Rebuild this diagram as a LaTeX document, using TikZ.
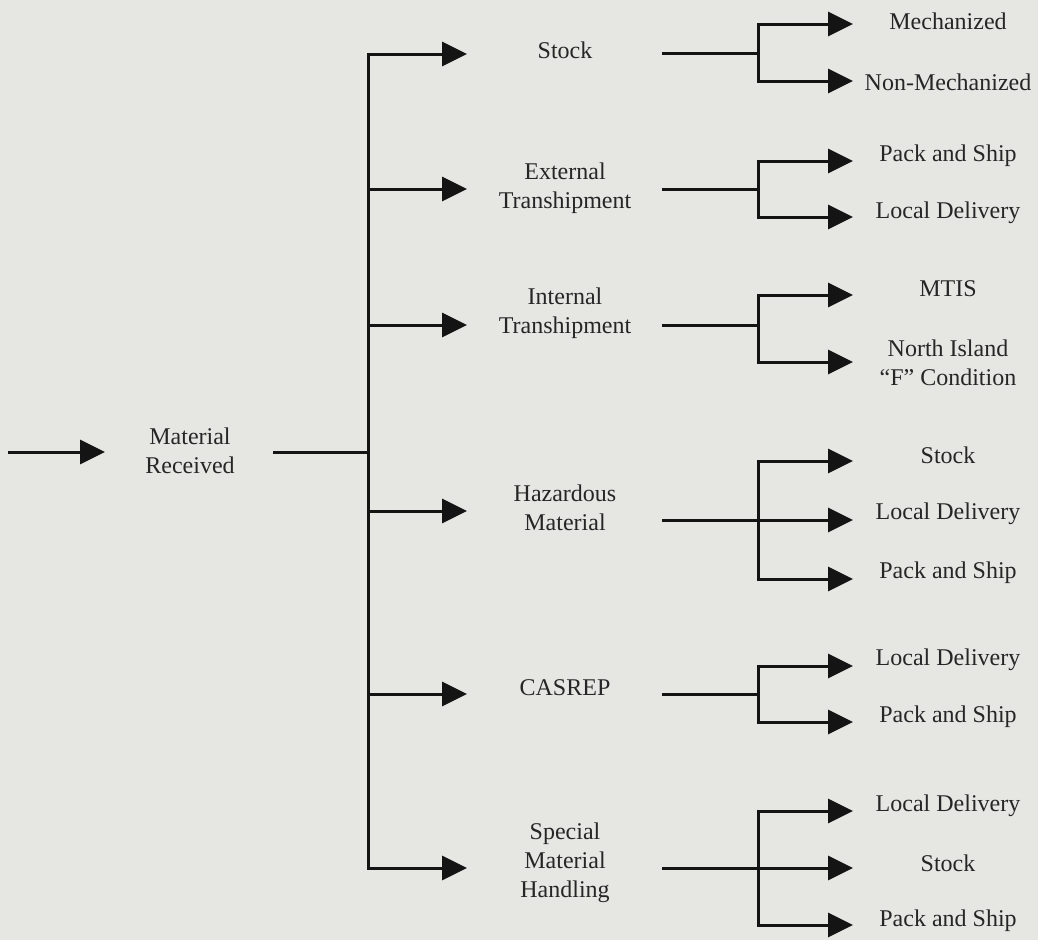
\documentclass[tikz,border=0pt]{standalone}
\usepackage{fontspec}
\setmainfont{Liberation Serif}
\usetikzlibrary{arrows.meta}
\definecolor{paper}{HTML}{E6E7E3}
\definecolor{ink}{HTML}{141414}
\definecolor{textink}{HTML}{262626}
\begin{document}
\begin{tikzpicture}[x=1pt,y=-1pt,
  wire/.style={draw=ink,line width=3pt,line join=miter},
  flow/.style={wire,-{Triangle[length=25pt,width=24pt]}},
  lbl/.style={text=textink,align=center,inner sep=0pt,
    font=\fontsize{24}{29}\selectfont}]
% page
\fill[paper] (0,0) rectangle (1038,940);
\useasboundingbox (0,0) rectangle (1038,940);

% ---- root ----
\coordinate (src) at (8,452);
\coordinate (rootin) at (105,452);
\node[lbl] (root) at (190,451) {Material\\Received};
\coordinate (rootout) at (273,452);
\coordinate (hub) at (368,452);
\draw[flow] (src) -- (rootin);
\draw[wire] (rootout) -- (hub);

% ---- first level labels ----
\node[lbl] (stock)    at (565,50)  {Stock};
\node[lbl] (ext)      at (565,188) {External\\Transhipment};
\node[lbl] (int)      at (565,313) {Internal\\Transhipment};
\node[lbl] (haz)      at (565,508) {Hazardous\\Material};
\node[lbl] (casrep)   at (565,688) {CASREP};
\node[lbl] (special)  at (565,863) {Special\\Material\\Handling};

% arrow ends in front of the first level labels
\coordinate (stockin)   at (467,54);
\coordinate (extin)     at (467,189);
\coordinate (intin)     at (467,325);
\coordinate (hazin)     at (467,511);
\coordinate (casrepin)  at (467,694);
\coordinate (specialin) at (467,868);

% main trunk with its branches
\draw[flow] (hub) |- (stockin);
\draw[flow] (hub) |- (specialin);
\draw[flow] (extin -| hub) -- (extin);
\draw[flow] (intin -| hub) -- (intin);
\draw[flow] (hazin -| hub) -- (hazin);
\draw[flow] (casrepin -| hub) -- (casrepin);

% ---- second level labels ----
\node[lbl] (mech)    at (948,21)  {Mechanized};
\node[lbl] (nonmech) at (948,82)  {Non-Mechanized};
\node[lbl] (extpack) at (948,156) {Pack and Ship};
\node[lbl] (extloc)  at (948,213) {Local Delivery};
\node[lbl] (mtis)    at (948,289) {MTIS};
\node[lbl] (north)   at (948,363) {North Island\\“F” Condition};
\node[lbl] (hazstk)  at (948,455) {Stock};
\node[lbl] (hazloc)  at (948,514) {Local Delivery};
\node[lbl] (hazpack) at (948,573) {Pack and Ship};
\node[lbl] (casloc)  at (948,660) {Local Delivery};
\node[lbl] (caspack) at (948,717) {Pack and Ship};
\node[lbl] (sploc)   at (948,806) {Local Delivery};
\node[lbl] (spstk)   at (948,863) {Stock};
\node[lbl] (sppack)  at (948,921) {Pack and Ship};

% ---- Stock ----
\coordinate (stockout) at (662,53);
\coordinate (stockfork) at (758,53);
\coordinate (mechin) at (853,24);
\coordinate (nonmechin) at (853,81);
\draw[wire] (stockout) -- (stockfork);
\draw[flow] (stockfork) |- (mechin);
\draw[flow] (stockfork) |- (nonmechin);

% ---- External Transhipment ----
\coordinate (extout) at (662,189);
\coordinate (extfork) at (758,189);
\coordinate (extpackin) at (853,161);
\coordinate (extlocin) at (853,217);
\draw[wire] (extout) -- (extfork);
\draw[flow] (extfork) |- (extpackin);
\draw[flow] (extfork) |- (extlocin);

% ---- Internal Transhipment ----
\coordinate (intout) at (662,325);
\coordinate (intfork) at (758,325);
\coordinate (mtisin) at (853,295);
\coordinate (northin) at (853,362);
\draw[wire] (intout) -- (intfork);
\draw[flow] (intfork) |- (mtisin);
\draw[flow] (intfork) |- (northin);

% ---- Hazardous Material ----
\coordinate (hazout) at (662,520);
\coordinate (hazfork) at (758,520);
\coordinate (hazstkin) at (853,461);
\coordinate (hazlocin) at (853,520);
\coordinate (hazpackin) at (853,579);
\draw[flow] (hazout) -- (hazlocin);
\draw[flow] (hazfork) |- (hazstkin);
\draw[flow] (hazfork) |- (hazpackin);

% ---- CASREP ----
\coordinate (casout) at (662,694);
\coordinate (casfork) at (758,694);
\coordinate (caslocin) at (853,666);
\coordinate (caspackin) at (853,722);
\draw[wire] (casout) -- (casfork);
\draw[flow] (casfork) |- (caslocin);
\draw[flow] (casfork) |- (caspackin);

% ---- Special Material Handling ----
\coordinate (spout) at (662,868);
\coordinate (spfork) at (758,868);
\coordinate (split) at (853,811);
\coordinate (spstkin) at (853,868);
\coordinate (sppackin) at (853,925);
\draw[flow] (spout) -- (spstkin);
\draw[flow] (spfork) |- (split);
\draw[flow] (spfork) |- (sppackin);
\end{tikzpicture}
\end{document}
